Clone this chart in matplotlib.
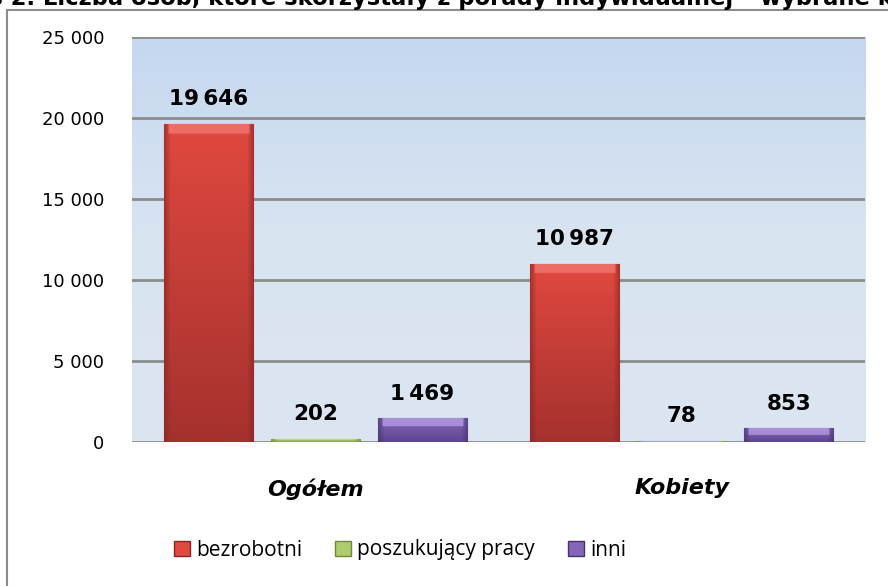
import numpy as np
import matplotlib.pyplot as plt
from matplotlib.patches import Rectangle
from matplotlib.colors import LinearSegmentedColormap, to_rgb

# data
categories = ['Ogółem', 'Kobiety']
series = ['bezrobotni', 'poszukujący pracy', 'inni']
values = [[19646, 10987],   # bezrobotni
          [202, 78],        # poszukujący pracy
          [1469, 853]]      # inni
yticks = [0, 5000, 10000, 15000, 20000, 25000]
title = 'Wykres 2. Liczba osób, które skorzystały z porady indywidualnej – wybrane kategorie'

# colours: (edge, bottom, top, bevel)
cols = [('#862523', '#a5312e', '#e0493f', '#f5817c'),
        ('#6f8a36', '#8fae4f', '#aecb6e', '#cfe59a'),
        ('#463468', '#5d4590', '#8466b8', '#c4a6ef')]

def fmt(v, sep='\u2009'):
    return '{:,}'.format(v).replace(',', sep)

def bar_img(c, v, ny=120, nx=60):
    edge, bot, top, bev = [np.array(to_rgb(k)) for k in c]
    t = np.linspace(0, 1, ny).reshape(-1, 1, 1)
    img = bot * (1 - t) + top * t
    img = np.repeat(img, nx, axis=1)
    # darker sides
    u = np.linspace(0, 1, nx)
    side = np.clip(1 - np.minimum(u, 1 - u) / 0.07, 0, 1).reshape(1, -1, 1)
    img = img * (1 - side * 0.6) + edge * side * 0.6
    # light top bevel (about 8 px tall)
    bh = min(0.5, 500 / v)
    rows = t[:, 0, 0] > 1 - bh
    mask = rows.reshape(-1, 1) & (side[0, :, 0] < 0.5).reshape(1, -1)
    img[mask] = img[mask] * 0.35 + bev * 0.65
    return img

fig = plt.figure(figsize=(8.88, 5.86), dpi=100)
W, H = 888, 586

# outer chart frame (runs off right and bottom)
fig.patches.append(Rectangle((7 / W, -0.05), 1.2, 1 - 10 / H + 0.05, transform=fig.transFigure,
                             fill=False, edgecolor='#8c8c8c', linewidth=1.5, zorder=0))

# cut-off title at top
fig.text(-92 / W, 1 - 5.5 / H, title, fontsize=16.3, fontweight='bold', family='DejaVu Sans',
         ha='left', va='baseline')

ax = fig.add_axes([132 / W, 1 - 442 / H, (865 - 132) / W, (442 - 37) / H])
ax.set_xlim(-0.5, 1.5)
ax.set_ylim(0, 25000)

# background gradient
grad = np.linspace(0, 1, 256).reshape(-1, 1)
bg = LinearSegmentedColormap.from_list('bg', ['#dce6f2', '#d9e4f1', '#c5d8f0'])
ax.imshow(grad, extent=[-0.5, 1.5, 0, 25000], origin='lower', aspect='auto', cmap=bg, zorder=0)

for y in yticks:
    ax.axhline(y, color='#8c8c8c', linewidth=2, zorder=1)

bw = 0.243
step = 0.292
x = np.arange(len(categories))
for i, s in enumerate(series):
    xs = x + (i - 1) * step
    bars = ax.bar(xs, values[i], width=bw, color=cols[i][1], edgecolor=cols[i][0],
                  linewidth=0.8, zorder=2, label=s)
    for b, v in zip(bars, values[i]):
        x0 = b.get_x()
        im = ax.imshow(bar_img(cols[i], v), extent=[x0, x0 + bw, 0, v], origin='lower',
                       aspect='auto', zorder=2.1)
        im.set_clip_path(b)
        ax.text(x0 + bw / 2, v + 900, fmt(v), ha='center', va='bottom',
                fontsize=15.5, fontweight='bold', family='DejaVu Sans', zorder=3)

ax.set_xticks(x)
ax.set_xticklabels(categories, fontsize=16, fontweight='bold', style='italic', family='DejaVu Sans')
ax.set_yticks(yticks)
ax.set_yticklabels([fmt(t, ' ') for t in yticks], fontsize=13, family='DejaVu Sans')
ax.tick_params(axis='both', length=0)
ax.tick_params(axis='x', pad=26)
ax.tick_params(axis='y', pad=20)
for sp in ax.spines.values():
    sp.set_visible(False)

handles = [Rectangle((0, 0), 1, 1, facecolor=cols[i][2], edgecolor=cols[i][0]) for i in range(3)]
fig.legend(handles, series, loc='center', bbox_to_anchor=(400 / W, 1 - 550 / H), ncol=3,
           frameon=False, prop={'family': 'Open Sans', 'size': 15}, handlelength=0.75,
           handleheight=0.75, handletextpad=0.3, columnspacing=1.6)

fig.savefig('out.png', dpi=100)
